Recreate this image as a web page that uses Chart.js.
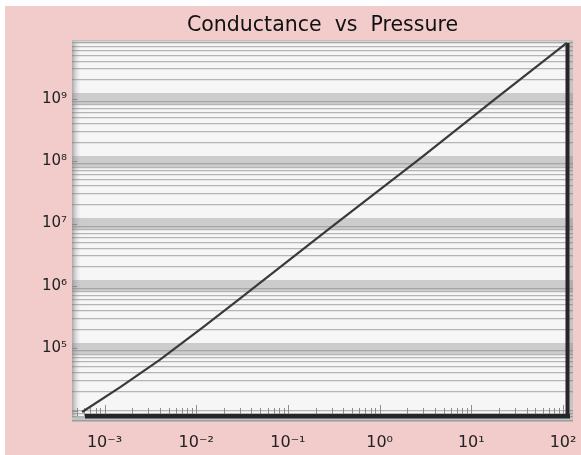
<!DOCTYPE html>
<html>
<head>
<meta charset="utf-8">
<script src="https://cdn.jsdelivr.net/npm/chart.js@4.4.0/dist/chart.umd.min.js"></script>
<style>
  html, body { margin: 0; padding: 0; background: #fff; }
  #wrap { position: absolute; left: 5px; top: 6px; width: 576px; height: 449px; background: #f2cbcb; }
  canvas { display: block; }
</style>
</head>
<body>
<div id="wrap"><canvas id="chart"></canvas></div>
<script>
// values
const pressure = [5.7e-4, 1.5e-3, 4.0e-3, 0.012, 0.029, 0.29, 2.8, 17, 110];
const conductance = [9.5e3, 2.4e4, 6.5e4, 2.2e5, 6.0e5, 8.5e6, 1.12e8, 9.2e8, 7.9e9];

// axis decades and their labels
const xDecades = [-3, -2, -1, 0, 1, 2];
const xTickLabels = ['10⁻³', '10⁻²', '10⁻¹', '10⁰', '10¹', '10²'];
const yDecades = [5, 6, 7, 8, 9];
const yTickLabels = ['10⁵', '10⁶', '10⁷', '10⁸', '10⁹'];

const xRange = [4.42e-4, 128.5];
const yRange = [6560, 8.79e9];

function isDecade(v) {
  const e = Math.log10(v);
  return Math.abs(e - Math.round(e)) < 1e-9;
}

function isLabelledDecade(v) {
  return isDecade(v) && yDecades.includes(Math.round(Math.log10(v)));
}

function decadeLabel(value, decades, labels) {
  const i = decades.findIndex(d => Math.abs(Math.pow(10, d) - value) / value < 1e-6);
  return i >= 0 ? labels[i] : '';
}

// 1..9 x 10^e ticks inside the scale range
function logTicks(scale, fromExp, toExp) {
  const ticks = [];
  for (let e = fromExp; e <= toExp; e++) {
    for (let m = 1; m <= 9; m++) {
      const v = m * Math.pow(10, e);
      if (v >= scale.min && v <= scale.max) ticks.push({ value: v });
    }
  }
  scale.ticks = ticks;
}

// scanned graph paper look: background, frame and inward tick marks
const paper = {
  id: 'paper',
  beforeDraw(chart) {
    const { ctx, chartArea: a } = chart;
    ctx.save();
    ctx.fillStyle = '#f6f6f6';
    ctx.fillRect(a.left, a.top, a.right - a.left, a.bottom - a.top);
    let g = ctx.createLinearGradient(a.left, 0, a.left + 9, 0);
    g.addColorStop(0, '#a8a8a8');
    g.addColorStop(1, 'rgba(230,230,230,0)');
    ctx.fillStyle = g;
    ctx.fillRect(a.left, a.top, 9, a.bottom - a.top);
    g = ctx.createLinearGradient(0, a.top, 0, a.top + 5);
    g.addColorStop(0, '#b5b5b5');
    g.addColorStop(1, 'rgba(230,230,230,0)');
    ctx.fillStyle = g;
    ctx.fillRect(a.left, a.top, a.right - a.left, 5);
    ctx.fillStyle = '#c4c4c4';
    ctx.fillRect(a.left, a.bottom - 5, a.right - a.left, 5);
    ctx.fillRect(a.right - 4, a.top, 4, a.bottom - a.top);
    ctx.restore();
  },
  beforeDatasetsDraw(chart) {
    const { ctx, chartArea: a, scales } = chart;
    const baseY = a.bottom - 6;
    ctx.save();
    ctx.strokeStyle = '#8c8c8c';
    ctx.lineWidth = 1;
    scales.x.ticks.forEach(t => {
      const px = Math.round(scales.x.getPixelForValue(t.value)) + 0.5;
      const len = isDecade(t.value) ? 11 : 8;
      ctx.beginPath();
      ctx.moveTo(px, baseY);
      ctx.lineTo(px, baseY - len);
      ctx.stroke();
    });
    scales.y.ticks.forEach(t => {
      if (!isDecade(t.value)) return;
      const py = Math.round(scales.y.getPixelForValue(t.value)) + 0.5;
      ctx.beginPath();
      ctx.moveTo(a.left, py);
      ctx.lineTo(a.left + 5, py);
      ctx.stroke();
    });
    ctx.fillStyle = '#262626';
    ctx.fillRect(a.left + 13, baseY - 2, a.right - a.left - 16, 4.5);
    ctx.fillRect(a.right - 7.5, a.top + 3, 4, baseY - a.top - 1);
    ctx.restore();
  }
};

new Chart(document.getElementById('chart'), {
  type: 'line',
  data: {
    datasets: [{
      data: pressure.map((p, i) => ({ x: p, y: conductance[i] })),
      borderColor: '#3a3a3a',
      borderWidth: 2.2,
      pointRadius: 0,
      tension: 0
    }]
  },
  options: {
    responsive: true,
    maintainAspectRatio: false,
    animation: false,
    layout: { padding: { left: 0, right: 8, top: 0, bottom: 0 } },
    plugins: {
      legend: { display: false },
      tooltip: { enabled: false },
      title: {
        display: true,
        text: 'Conductance  vs  Pressure',
        fullSize: false,
        color: '#111',
        font: { family: 'DejaVu Sans', size: 20.5, weight: 'normal' },
        padding: { top: 7, bottom: 2.4 }
      }
    },
    scales: {
      x: {
        type: 'logarithmic',
        min: xRange[0],
        max: xRange[1],
        afterBuildTicks: s => logTicks(s, -4, 2),
        afterFit: s => { s.height = 33; },
        grid: { display: false },
        border: { display: false },
        ticks: {
          autoSkip: false,
          maxRotation: 0,
          padding: 3,
          color: '#222',
          font: { family: 'DejaVu Sans', size: 16 },
          callback: v => decadeLabel(v, xDecades, xTickLabels)
        }
      },
      y: {
        type: 'logarithmic',
        min: yRange[0],
        max: yRange[1],
        afterBuildTicks: s => logTicks(s, 3, 9),
        afterFit: s => { s.width = 67; },
        border: { display: false },
        grid: {
          drawTicks: false,
          color: c => (c.tick && isLabelledDecade(c.tick.value)) ? 'rgba(145,145,145,0.42)' : 'rgba(115,115,115,0.5)',
          lineWidth: c => (c.tick && isLabelledDecade(c.tick.value)) ? 11 : 1.3
        },
        ticks: {
          autoSkip: false,
          padding: 5,
          color: '#222',
          font: { family: 'DejaVu Sans', size: 15 },
          callback: v => decadeLabel(v, yDecades, yTickLabels)
        }
      }
    }
  },
  plugins: [paper]
});
</script>
</body>
</html>
